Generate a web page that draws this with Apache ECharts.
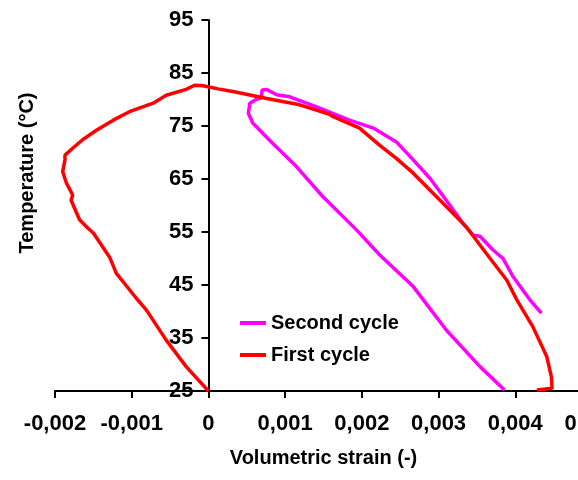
<!DOCTYPE html>
<html>
<head>
<meta charset="utf-8">
<script src="https://cdn.jsdelivr.net/npm/echarts@6/dist/echarts.min.js"></script>
<style>
html,body{margin:0;padding:0;background:#fff;}
#chart{width:578px;height:480px;}
</style>
</head>
<body>
<div id="chart"></div>
<script>
// Tick labels / axis ranges
const xTicks = [-0.002, -0.001, 0, 0.001, 0.002, 0.003, 0.004, 0.005];
const yTicks = [25, 35, 45, 55, 65, 75, 85, 95];
const seriesNames = ['Second cycle', 'First cycle'];

// First cycle: volumetric strain (-) and temperature (°C)
const firstStrain = [0, -0.00029, -0.00055, -0.00081, -0.00094, -0.00120, -0.00129, -0.00150, -0.00157, -0.00168,
  -0.00179, -0.00177, -0.00185, -0.00190, -0.00187, -0.00187, -0.00177, -0.00164, -0.00146, -0.00124,
  -0.00103, -0.00072, -0.00055, -0.00029, -0.00018, -0.00007, 0.000125, 0.00032, 0.00076, 0.00119,
  0.00158, 0.00162, 0.00197, 0.00223, 0.00245, 0.00267, 0.00310, 0.00336, 0.00362, 0.00389,
  0.00402, 0.00423, 0.00441, 0.00447, 0.00448, 0.00428];
const firstTemp = [25, 29.6, 34.6, 40.3, 42.5, 47.2, 50.3, 54.8, 55.7, 57.3,
  61.0, 62.0, 64.2, 66.4, 68.6, 69.5, 70.8, 72.4, 74.2, 76.1,
  77.7, 79.3, 80.8, 81.9, 82.7, 82.6, 82.0, 81.5, 80.2, 79.0,
  77.2, 76.8, 74.6, 71.4, 68.9, 66.1, 59.8, 56.0, 51.0, 45.9,
  42.2, 37.1, 31.5, 27.7, 25.5, 25.2];

// Second cycle
const secondStrain = [0.00386, 0.00354, 0.00310, 0.00267, 0.00223, 0.00193, 0.00149, 0.00115, 0.00084, 0.00058,
  0.00052, 0.00054, 0.00062, 0.00069, 0.00070, 0.00076, 0.00089, 0.00106, 0.00141, 0.00184,
  0.00215, 0.00245, 0.00267, 0.00289, 0.00310, 0.00332, 0.00345, 0.00354, 0.00371, 0.00384,
  0.00397, 0.00419, 0.00434];
const secondTemp = [25.2, 29.6, 36.5, 44.7, 50.7, 55.4, 61.7, 67.3, 71.7, 75.5,
  77.4, 79.3, 80.0, 80.3, 81.8, 81.9, 80.9, 80.5, 78.6, 76.1,
  74.6, 72.0, 68.6, 65.1, 61.0, 56.6, 54.4, 54.2, 51.6, 50.0,
  46.6, 42.2, 39.7];

const zip = (a, b) => a.map((v, i) => [v, b[i]]);
const FONT = "'Liberation Sans', Arial, sans-serif";

const GRID_LEFT = 55, GRID_RIGHT = -14, W = 578;
// place the y axis line at strain = 0 via the axis offset
const plotW = W - GRID_LEFT - GRID_RIGHT;
const zeroOffset = -plotW * (0 - xTicks[0]) / (xTicks[xTicks.length - 1] - xTicks[0]);

const chart = echarts.init(document.getElementById('chart'), null, {renderer: 'canvas'});
chart.setOption({
  animation: false,
  backgroundColor: '#ffffff',
  grid: {left: GRID_LEFT, right: GRID_RIGHT, top: 20, bottom: 89, outerBoundsMode: 'none', containLabel: false},
  legend: {
    orient: 'vertical', left: 240, top: 313, padding: 0, itemGap: 12,
    icon: 'rect', itemWidth: 26, itemHeight: 4,
    data: seriesNames,
    textStyle: {fontFamily: FONT, fontSize: 20, fontWeight: 'bold', color: '#000', lineHeight: 20}
  },
  xAxis: {
    type: 'value',
    min: xTicks[0], max: xTicks[xTicks.length - 1], interval: 0.001,
    name: 'Volumetric strain (-)', nameLocation: 'middle', nameGap: 57,
    nameTextStyle: {fontFamily: FONT, fontSize: 20, fontWeight: 'bold', color: '#000'},
    splitLine: {show: false},
    axisLine: {show: true, onZero: false, lineStyle: {color: '#000', width: 2}},
    axisTick: {show: true, length: 7, inside: false, lineStyle: {color: '#000', width: 2}},
    axisLabel: {
      margin: 22, fontFamily: FONT, fontSize: 22, fontWeight: 'bold', color: '#000',
      showMinLabel: true, showMaxLabel: true, hideOverlap: false,
      formatter: v => Math.abs(v) < 1e-9 ? '0' : (Math.round(v * 1000) / 1000).toFixed(3).replace('.', ',')
    }
  },
  yAxis: {
    type: 'value', position: 'left', offset: zeroOffset,
    min: yTicks[0], max: yTicks[yTicks.length - 1], interval: 10,
    splitLine: {show: false},
    axisLine: {show: true, onZero: false, lineStyle: {color: '#000', width: 2}},
    axisTick: {show: true, length: 7, inside: false, lineStyle: {color: '#000', width: 2}},
    axisLabel: {margin: 15, fontFamily: FONT, fontSize: 22, fontWeight: 'bold', color: '#000',
      showMinLabel: true, showMaxLabel: true}
  },
  graphic: [{
    type: 'text', x: 27, y: 173, rotation: Math.PI / 2,
    style: {text: 'Temperature (°C)', font: "bold 20px 'Liberation Sans', Arial, sans-serif",
      fill: '#000', textAlign: 'center', textVerticalAlign: 'middle'}
  }],
  series: [
    {name: seriesNames[0], type: 'line', data: zip(secondStrain, secondTemp), showSymbol: false,
      symbol: 'none', color: '#FF00FF', lineStyle: {color: '#FF00FF', width: 3.5}, z: 2},
    {name: seriesNames[1], type: 'line', data: zip(firstStrain, firstTemp), showSymbol: false,
      symbol: 'none', color: '#FF0000', lineStyle: {color: '#FF0000', width: 3.5}, z: 3}
  ]
});
</script>
</body>
</html>
